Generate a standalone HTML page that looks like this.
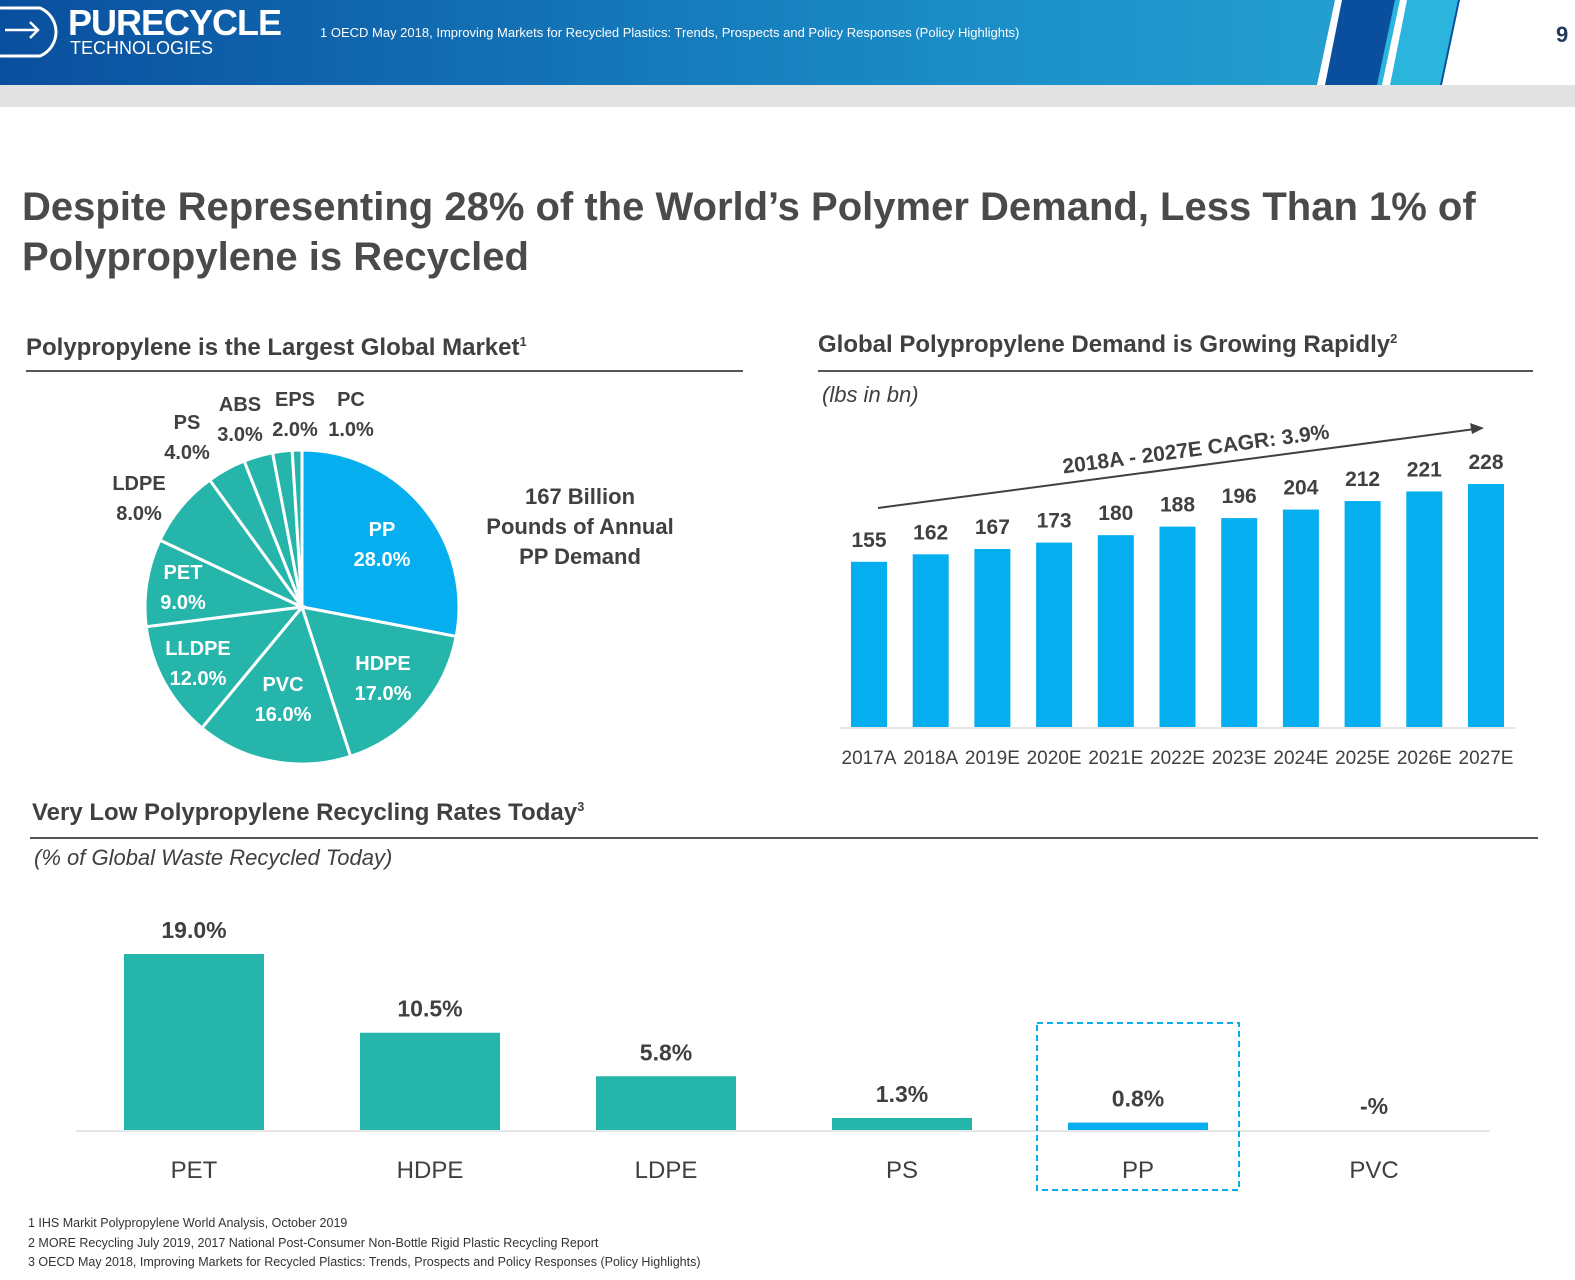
<!DOCTYPE html>
<html><head><meta charset="utf-8"><style>
body{margin:0;width:1575px;height:1280px;background:#fff;font-family:"Liberation Sans",sans-serif;position:relative;overflow:hidden;color:#404040}
.abs{position:absolute}
.h2{font-weight:bold;font-size:24px;color:#404040}
.fn{font-size:12.5px;color:#333}
</style></head><body>
<div class="abs" style="left:0;top:0;width:1575px;height:85px;background:linear-gradient(90deg,#0a4f9e,#1a8cc6 60%,#2aa9d6)"></div>
<svg class="abs" style="left:0;top:0" width="1575" height="110">
<polygon points="1340,0 1575,0 1575,85 1320,85" fill="#0a4f9e"/>
<polygon points="1395,0 1458,0 1440,85 1377,85" fill="#2bb5dd"/>
<polygon points="1460,0 1575,0 1575,85 1442,85" fill="#fff"/>
<polygon points="1335,0 1342,0 1325,85 1317,85" fill="#fff"/>
<polygon points="1400,0 1407,0 1390,85 1382,85" fill="#fff"/>
<rect x="0" y="85" width="1575" height="22" fill="#e2e2e2"/>
<path d="M0,8 H40 A26,26 0 0 1 40,56 H0" fill="none" stroke="#fff" stroke-width="3"/>
<path d="M5,30 H38 M30,22 L38,30 L30,38" fill="none" stroke="#fff" stroke-width="2.5"/>
</svg>
<div class="abs" style="left:68px;top:2px;color:#fff;font-weight:bold;font-size:36px;letter-spacing:-1px">PURE<span>CYCLE</span></div>
<div class="abs" style="left:70px;top:38px;color:#fff;font-size:18px">TECHNOLOGIES</div>
<div class="abs" style="left:320px;top:25px;color:#fff;font-size:13px">1 OECD May 2018, Improving Markets for Recycled Plastics: Trends, Prospects and Policy Responses (Policy Highlights)</div>
<div class="abs" style="left:1556px;top:22px;color:#1f3a5c;font-weight:bold;font-size:22px">9</div>

<div class="abs" style="left:22px;top:182px;font-weight:bold;font-size:40px;line-height:50px;color:#4a4a4a">Despite Representing 28% of the World’s Polymer Demand, Less Than 1% of<br>Polypropylene is Recycled</div>

<div class="abs h2" style="left:26px;top:334px">Polypropylene is the Largest Global Market<sup style="font-size:13px">1</sup></div>
<div class="abs" style="left:26px;top:370px;width:717px;height:2px;background:#555"></div>
<div class="abs h2" style="left:818px;top:331px">Global Polypropylene Demand is Growing Rapidly<sup style="font-size:13px">2</sup></div>
<div class="abs" style="left:818px;top:370px;width:715px;height:2px;background:#555"></div>
<div class="abs" style="left:822px;top:382px;font-style:italic;font-size:22px">(lbs in bn)</div>
<div class="abs h2" style="left:32px;top:799px">Very Low Polypropylene Recycling Rates Today<sup style="font-size:13px">3</sup></div>
<div class="abs" style="left:30px;top:837px;width:1508px;height:2px;background:#555"></div>
<div class="abs" style="left:34px;top:845px;font-style:italic;font-size:22px">(% of Global Waste Recycled Today)</div>

<div class="abs" style="left:470px;top:482px;width:220px;text-align:center;font-weight:bold;font-size:22px;line-height:30px">167 Billion<br>Pounds of Annual<br>PP Demand</div>

<svg class="abs" style="left:0;top:0" width="1575" height="1280" id="charts" font-family="Liberation Sans, sans-serif"></svg>

<div class="abs fn" style="left:28px;top:1216px">1 IHS Markit Polypropylene World Analysis, October 2019</div>
<div class="abs fn" style="left:28px;top:1236px">2 MORE Recycling July 2019, 2017 National Post-Consumer Non-Bottle Rigid Plastic Recycling Report</div>
<div class="abs fn" style="left:28px;top:1255px">3 OECD May 2018, Improving Markets for Recycled Plastics: Trends, Prospects and Policy Responses (Policy Highlights)</div>

<script>
const pieLabels=["PP","HDPE","PVC","LLDPE","PET","LDPE","PS","ABS","EPS","PC"];
const pieValues=[28,17,16,12,9,8,4,3,2,1];
const years=["2017A","2018A","2019E","2020E","2021E","2022E","2023E","2024E","2025E","2026E","2027E"];
const demand=[155,162,167,173,180,188,196,204,212,221,228];
const recCats=["PET","HDPE","LDPE","PS","PP","PVC"];
const recValues=[19.0,10.5,5.8,1.3,0.8,0];
const recLabels=["19.0%","10.5%","5.8%","1.3%","0.8%","-%"];

const NS="http://www.w3.org/2000/svg",svg=document.getElementById('charts');
function mk(t,a,txt){const e=document.createElementNS(NS,t);for(const k in a)e.setAttribute(k,a[k]);if(txt!=null)e.textContent=txt;svg.appendChild(e);return e;}
const TEAL="#26b5aa",BLUE="#05aeef";
// pie
const cx=302,cy=607,R=157,tot=pieValues.reduce((a,b)=>a+b,0);
let acc=0;
const outside={"LDPE":[139,497],"PS":[187,436],"ABS":[240,418],"EPS":[295,413],"PC":[351,413]};
const inside={"PP":[382,543],"HDPE":[383,677],"PVC":[283,698],"LLDPE":[198,662],"PET":[183,586]};
pieValues.forEach((v,i)=>{
 const a0=acc/tot*2*Math.PI;acc+=v;const a1=acc/tot*2*Math.PI;
 const p=a=>[cx+R*Math.sin(a),cy-R*Math.cos(a)];
 const [x0,y0]=p(a0),[x1,y1]=p(a1);
 const s=mk('path',{d:`M${cx},${cy}L${x0},${y0}A${R},${R} 0 ${a1-a0>Math.PI?1:0} 1 ${x1},${y1}Z`,fill:i==0?BLUE:TEAL,stroke:'#fff','stroke-width':3});
 
 
 const lab=pieLabels[i];const ins=inside[lab];const pos=ins||outside[lab];
 const col=ins?'#fff':'#404040';
 const t1=mk('text',{x:pos[0],y:pos[1]-7,'text-anchor':'middle','font-size':20,'font-weight':'bold',fill:col},lab);
 
 
 const t2=mk('text',{x:pos[0],y:pos[1]+23,'text-anchor':'middle','font-size':20,'font-weight':'bold',fill:col},v.toFixed(1)+'%');
 
 
});
// demand bars
const base=727,sc=243/228,x0=869,dx=61.7;
mk('line',{x1:840,x2:1515,y1:base+1,y2:base+1,stroke:'#ddd','stroke-width':1.5});
demand.forEach((v,i)=>{
 const x=x0+dx*i,h=v*sc;
 const b=mk('rect',{x:x-18,y:base-h,width:36,height:h,fill:BLUE});
 
 
 const t=mk('text',{x:x,y:base-h-15,'text-anchor':'middle','font-size':21,'font-weight':'bold',fill:'#404040'},v);
 
 
 const yl=mk('text',{x:x,y:764,'text-anchor':'middle','font-size':19,fill:'#404040'},years[i]);
 
 
});
const ar=mk('line',{x1:878,y1:508,x2:1475,y2:429,stroke:'#404040','stroke-width':2});


mk('polygon',{points:'1484,428 1470,423 1472,434',fill:'#404040'});
const cg=mk('text',{x:1196,y:456,'text-anchor':'middle','font-size':21,'font-weight':'bold',fill:'#404040',transform:'rotate(-7.5 1196 450)'},'2018A - 2027E CAGR: 3.9%');


// recycling bars
const rb=1130,rs=176/19,rx0=194,rdx=236;
mk('line',{x1:76,x2:1490,y1:rb+1,y2:rb+1,stroke:'#ddd','stroke-width':1.5});
recValues.forEach((v,i)=>{
 const x=rx0+rdx*i,h=v*rs;
 const b=mk('rect',{x:x-70,y:rb-h,width:140,height:h,fill:recCats[i]=='PP'?BLUE:TEAL});
 
 
 const t=mk('text',{x:x,y:rb-h-16,'text-anchor':'middle','font-size':23,'font-weight':'bold',fill:'#404040'},recLabels[i]);
 
 
 const c=mk('text',{x:x,y:1178,'text-anchor':'middle','font-size':24,fill:'#404040'},recCats[i]);
 
 
 if(recCats[i]=='PP'){
  const hl=mk('rect',{x:x-101,y:1023,width:202,height:167,fill:'none',stroke:BLUE,'stroke-width':2,'stroke-dasharray':'6,4'});
  
  
 }
});
</script>
</body></html>
